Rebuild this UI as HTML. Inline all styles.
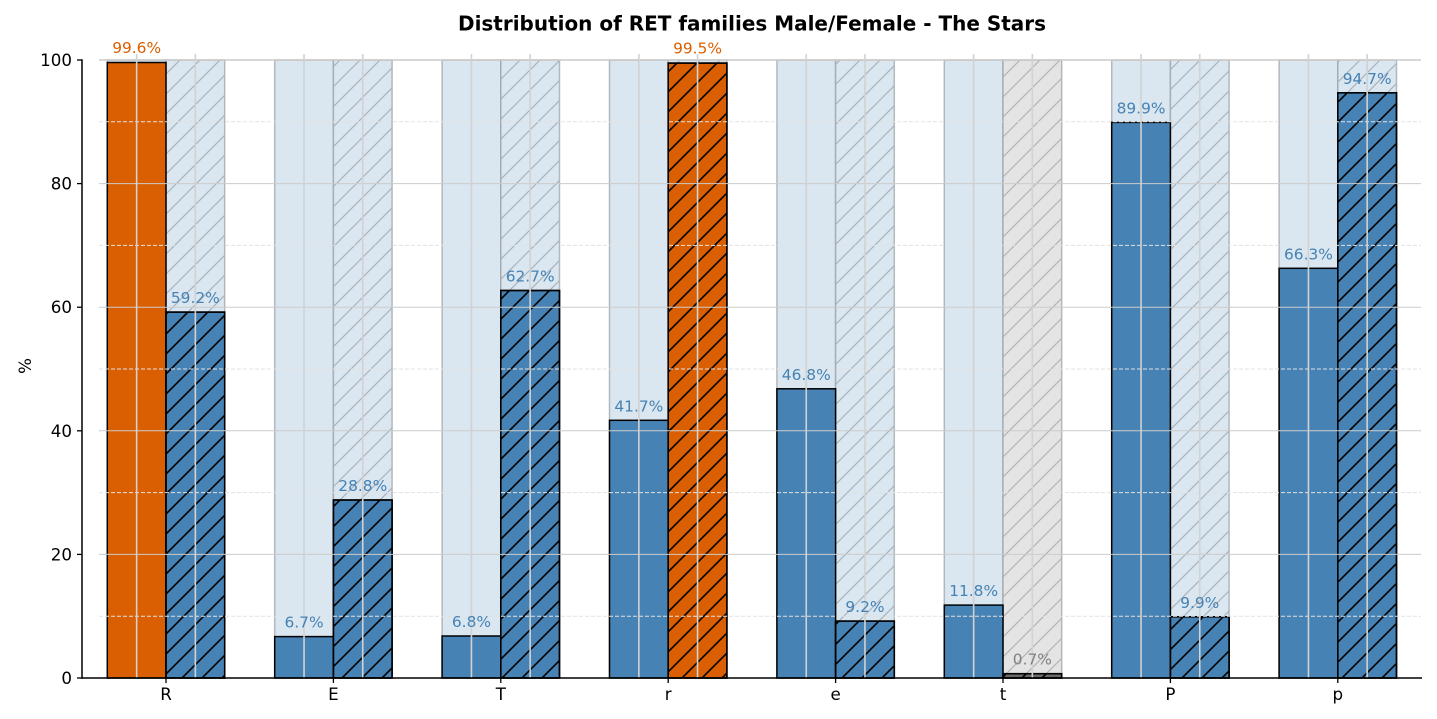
<!DOCTYPE html>
<html><head><meta charset="utf-8"><style>
html,body{margin:0;padding:0;background:#fff;}
svg{display:block;font-family:"DejaVu Sans","Liberation Sans",sans-serif;}
</style></head><body>
<svg width="1437" height="719" viewBox="0 0 1437 719" xmlns="http://www.w3.org/2000/svg">
<defs>
<pattern id="hb" patternUnits="userSpaceOnUse" width="20" height="20">
<path d="M-3,3 L3,-3 M0,20 L20,0 M17,23 L23,17" stroke="#000" stroke-width="1.6"/>
</pattern>
<pattern id="hg" patternUnits="userSpaceOnUse" width="20" height="20">
<path d="M-3,3 L3,-3 M0,20 L20,0 M17,23 L23,17" stroke="#a9b3bc" stroke-width="1.2"/>
</pattern>
<pattern id="hgg" patternUnits="userSpaceOnUse" width="20" height="20">
<path d="M-3,3 L3,-3 M0,20 L20,0 M17,23 L23,17" stroke="#b4b4b4" stroke-width="1.2"/>
</pattern>
</defs>

<text x="752" y="30.5" text-anchor="middle" font-size="20" font-weight="bold" fill="#000" textLength="588" lengthAdjust="spacingAndGlyphs">Distribution of RET families Male/Female - The Stars</text>

<g stroke="#9aa0a6" stroke-opacity="0.7" stroke-width="1.5">
<rect x="107.3" y="60" width="58.7" height="618" fill="#dae6f0"/>
<rect x="166" y="60" width="58.7" height="618" fill="#dae6f0"/>
<rect x="274.7" y="60" width="58.7" height="618" fill="#dae6f0"/>
<rect x="333.4" y="60" width="58.7" height="618" fill="#dae6f0"/>
<rect x="442.1" y="60" width="58.7" height="618" fill="#dae6f0"/>
<rect x="500.8" y="60" width="58.7" height="618" fill="#dae6f0"/>
<rect x="609.5" y="60" width="58.7" height="618" fill="#dae6f0"/>
<rect x="668.2" y="60" width="58.7" height="618" fill="#dae6f0"/>
<rect x="776.9" y="60" width="58.7" height="618" fill="#dae6f0"/>
<rect x="835.6" y="60" width="58.7" height="618" fill="#dae6f0"/>
<rect x="944.3" y="60" width="58.7" height="618" fill="#dae6f0"/>
<rect x="1003" y="60" width="58.7" height="618" fill="#e4e4e4"/>
<rect x="1111.7" y="60" width="58.7" height="618" fill="#dae6f0"/>
<rect x="1170.4" y="60" width="58.7" height="618" fill="#dae6f0"/>
<rect x="1279.1" y="60" width="58.7" height="618" fill="#dae6f0"/>
<rect x="1337.8" y="60" width="58.7" height="618" fill="#dae6f0"/>
</g>
<g>
<rect x="166" y="60" width="58.7" height="618" fill="url(#hg)"/>
<rect x="333.4" y="60" width="58.7" height="618" fill="url(#hg)"/>
<rect x="500.8" y="60" width="58.7" height="618" fill="url(#hg)"/>
<rect x="668.2" y="60" width="58.7" height="618" fill="url(#hg)"/>
<rect x="835.6" y="60" width="58.7" height="618" fill="url(#hg)"/>
<rect x="1003" y="60" width="58.7" height="618" fill="url(#hgg)"/>
<rect x="1170.4" y="60" width="58.7" height="618" fill="url(#hg)"/>
<rect x="1337.8" y="60" width="58.7" height="618" fill="url(#hg)"/>
</g>

<g stroke="#000" stroke-width="1.5">
<rect x="107.3" y="62.5" width="58.7" height="615.5" fill="#d95f02"/>
<rect x="166" y="312.1" width="58.7" height="365.9" fill="#4682b4"/>
<rect x="274.7" y="636.6" width="58.7" height="41.4" fill="#4682b4"/>
<rect x="333.4" y="500" width="58.7" height="178" fill="#4682b4"/>
<rect x="442.1" y="636" width="58.7" height="42" fill="#4682b4"/>
<rect x="500.8" y="290.5" width="58.7" height="387.5" fill="#4682b4"/>
<rect x="609.5" y="420.3" width="58.7" height="257.7" fill="#4682b4"/>
<rect x="668.2" y="63.1" width="58.7" height="614.9" fill="#d95f02"/>
<rect x="776.9" y="388.8" width="58.7" height="289.2" fill="#4682b4"/>
<rect x="835.6" y="621.1" width="58.7" height="56.9" fill="#4682b4"/>
<rect x="944.3" y="605.1" width="58.7" height="72.9" fill="#4682b4"/>
<rect x="1003" y="673.7" width="58.7" height="4.3" fill="#6a6a6a"/>
<rect x="1111.7" y="122.4" width="58.7" height="555.6" fill="#4682b4"/>
<rect x="1170.4" y="616.8" width="58.7" height="61.2" fill="#4682b4"/>
<rect x="1279.1" y="268.3" width="58.7" height="409.7" fill="#4682b4"/>
<rect x="1337.8" y="92.8" width="58.7" height="585.2" fill="#4682b4"/>
</g>
<g stroke="#000" stroke-width="1.5">
<rect x="166" y="312.1" width="58.7" height="365.9" fill="url(#hb)"/>
<rect x="333.4" y="500" width="58.7" height="178" fill="url(#hb)"/>
<rect x="500.8" y="290.5" width="58.7" height="387.5" fill="url(#hb)"/>
<rect x="668.2" y="63.1" width="58.7" height="614.9" fill="url(#hb)"/>
<rect x="835.6" y="621.1" width="58.7" height="56.9" fill="url(#hb)"/>
<rect x="1003" y="673.7" width="58.7" height="4.3" fill="url(#hb)"/>
<rect x="1170.4" y="616.8" width="58.7" height="61.2" fill="url(#hb)"/>
<rect x="1337.8" y="92.8" width="58.7" height="585.2" fill="url(#hb)"/>
</g>

<g stroke="#e2e2e2" stroke-width="1" stroke-dasharray="4,2">
<line x1="99" x2="1421" y1="616.2" y2="616.2"/>
<line x1="99" x2="1421" y1="492.6" y2="492.6"/>
<line x1="99" x2="1421" y1="369" y2="369"/>
<line x1="99" x2="1421" y1="245.4" y2="245.4"/>
<line x1="99" x2="1421" y1="121.8" y2="121.8"/>
</g>
<g stroke="#cccccc" stroke-width="1">
<line x1="99" x2="1421" y1="554.4" y2="554.4"/>
<line x1="99" x2="1421" y1="430.8" y2="430.8"/>
<line x1="99" x2="1421" y1="307.2" y2="307.2"/>
<line x1="99" x2="1421" y1="183.6" y2="183.6"/>
<line x1="99" x2="1421" y1="60" y2="60" stroke-width="1.5"/>
</g>
<g stroke="#d2d2d2" stroke-width="1.6">
<line x1="136.65" x2="136.65" y1="54" y2="678"/>
<line x1="195.35" x2="195.35" y1="54" y2="678"/>
<line x1="304.05" x2="304.05" y1="54" y2="678"/>
<line x1="362.75" x2="362.75" y1="54" y2="678"/>
<line x1="471.45" x2="471.45" y1="54" y2="678"/>
<line x1="530.15" x2="530.15" y1="54" y2="678"/>
<line x1="638.85" x2="638.85" y1="54" y2="678"/>
<line x1="697.55" x2="697.55" y1="54" y2="678"/>
<line x1="806.25" x2="806.25" y1="54" y2="678"/>
<line x1="864.95" x2="864.95" y1="54" y2="678"/>
<line x1="973.65" x2="973.65" y1="54" y2="678"/>
<line x1="1032.35" x2="1032.35" y1="54" y2="678"/>
<line x1="1141.05" x2="1141.05" y1="54" y2="678"/>
<line x1="1199.75" x2="1199.75" y1="54" y2="678"/>
<line x1="1308.45" x2="1308.45" y1="54" y2="678"/>
<line x1="1367.15" x2="1367.15" y1="54" y2="678"/>
</g>

<g font-size="15.4" text-anchor="middle">
<text x="136.65" y="53" fill="#d95f02">99.6%</text>
<text x="195.35" y="303.1" fill="#4682b4">59.2%</text>
<text x="304.05" y="627.6" fill="#4682b4">6.7%</text>
<text x="362.75" y="491" fill="#4682b4">28.8%</text>
<text x="471.45" y="627" fill="#4682b4">6.8%</text>
<text x="530.15" y="281.5" fill="#4682b4">62.7%</text>
<text x="638.85" y="411.3" fill="#4682b4">41.7%</text>
<text x="697.55" y="53.6" fill="#d95f02">99.5%</text>
<text x="806.25" y="379.8" fill="#4682b4">46.8%</text>
<text x="864.95" y="612.1" fill="#4682b4">9.2%</text>
<text x="973.65" y="596.1" fill="#4682b4">11.8%</text>
<text x="1032.35" y="664.7" fill="#808080">0.7%</text>
<text x="1141.05" y="113.4" fill="#4682b4">89.9%</text>
<text x="1199.75" y="607.8" fill="#4682b4">9.9%</text>
<text x="1308.45" y="259.3" fill="#4682b4">66.3%</text>
<text x="1367.15" y="83.8" fill="#4682b4">94.7%</text>
</g>

<line x1="82" x2="82" y1="59.3" y2="678.7" stroke="#000" stroke-width="1.5"/>
<line x1="81.3" x2="1422" y1="678" y2="678" stroke="#000" stroke-width="1.5"/>

<g stroke="#000" stroke-width="1.3">
<line x1="77" x2="82" y1="678" y2="678"/>
<line x1="77" x2="82" y1="554.4" y2="554.4"/>
<line x1="77" x2="82" y1="430.8" y2="430.8"/>
<line x1="77" x2="82" y1="307.2" y2="307.2"/>
<line x1="77" x2="82" y1="183.6" y2="183.6"/>
<line x1="77" x2="82" y1="60" y2="60"/>
</g>
<g font-size="16.7" text-anchor="end" fill="#000">
<text x="72" y="684">0</text>
<text x="72" y="560.4">20</text>
<text x="72" y="436.8">40</text>
<text x="72" y="313.2">60</text>
<text x="72" y="189.6">80</text>
<text x="72" y="66">100</text>
</g>

<g stroke="#000" stroke-width="1.3">
<line x1="166" x2="166" y1="678" y2="683"/>
<line x1="333.4" x2="333.4" y1="678" y2="683"/>
<line x1="500.8" x2="500.8" y1="678" y2="683"/>
<line x1="668.2" x2="668.2" y1="678" y2="683"/>
<line x1="835.6" x2="835.6" y1="678" y2="683"/>
<line x1="1003" x2="1003" y1="678" y2="683"/>
<line x1="1170.4" x2="1170.4" y1="678" y2="683"/>
<line x1="1337.8" x2="1337.8" y1="678" y2="683"/>
</g>
<g font-size="16.7" text-anchor="middle" fill="#000">
<text x="166" y="700">R</text>
<text x="333.4" y="700">E</text>
<text x="500.8" y="700">T</text>
<text x="668.2" y="700">r</text>
<text x="835.6" y="700">e</text>
<text x="1003" y="700">t</text>
<text x="1170.4" y="700">P</text>
<text x="1337.8" y="700">p</text>
</g>

<text x="0" y="0" font-size="16.7" text-anchor="middle" transform="translate(31,366) rotate(-90)">%</text>
</svg>
</body></html>
